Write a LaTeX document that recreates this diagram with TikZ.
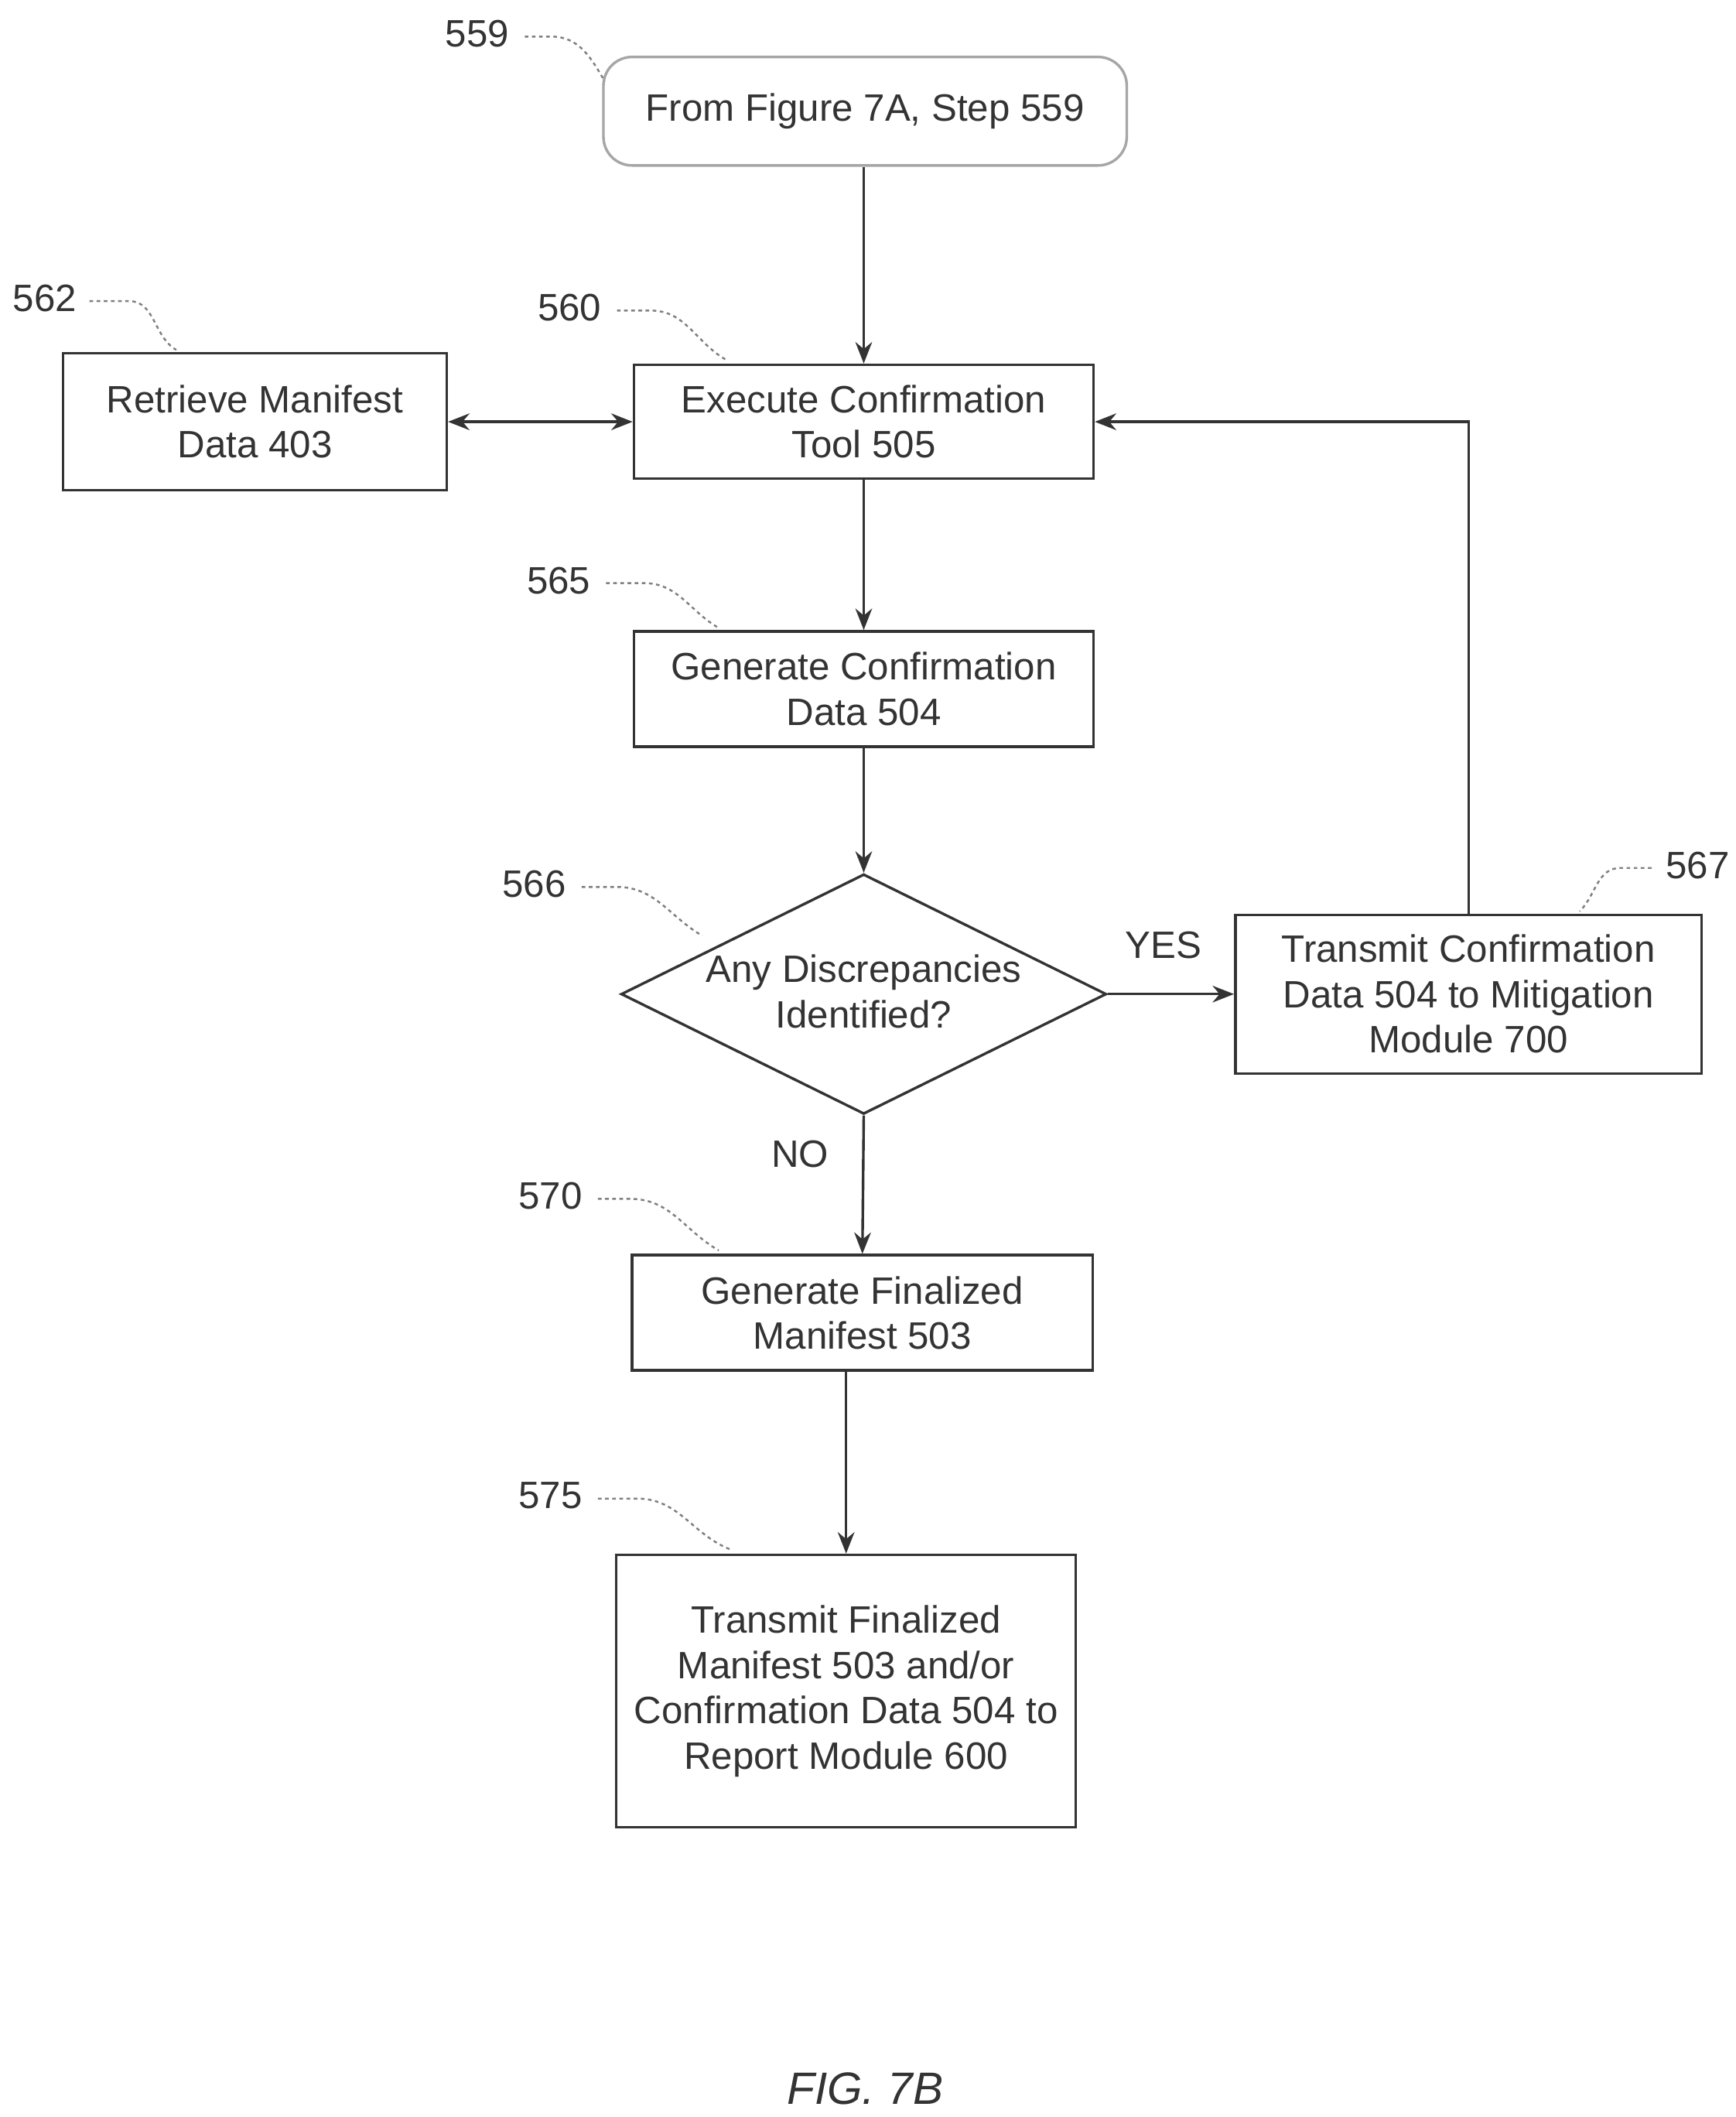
\documentclass[tikz,border=0pt]{standalone}
\usepackage{fontspec}
\setmainfont{Liberation Sans}
\usetikzlibrary{shapes.geometric,arrows.meta}
\definecolor{ink}{HTML}{333333}
\begin{document}
\begin{tikzpicture}[x=0.02cm,y=-0.02cm,
  every node/.style={font=\fontsize{16}{19}\selectfont,text=ink},
  box/.style={draw=ink,line width=1.1pt,align=center,inner sep=0pt},
  arr/.style={draw=ink,line width=1.1pt,-{Stealth[length=9pt,width=7pt]}},
  lead/.style={draw=gray,line width=0.8pt,dash pattern=on 1.5pt off 1.5pt}]
\useasboundingbox (0,0) rectangle (1280,1561);
\node[box,draw=gray!70,rounded corners=12pt,minimum width=7.72cm,minimum height=1.6cm] (s) at (638,82) {From Figure 7A, Step 559};
\node[box,minimum width=5.66cm,minimum height=2.02cm] (b562) at (188,311) {Retrieve Manifest\\Data 403};
\node[box,minimum width=6.78cm,minimum height=1.68cm] (b560) at (637,311) {Execute Confirmation\\Tool 505};
\node[box,minimum width=6.78cm,minimum height=1.7cm] (b565) at (637,508) {Generate Confirmation\\Data 504};
\node[diamond,draw=ink,line width=1.1pt,minimum width=7.16cm,minimum height=3.54cm,aspect=2.02,align=center,inner sep=0pt] (d566) at (637,733) {};
\node[align=center] at (637,731) {Any Discrepancies\\Identified?};
\node[box,minimum width=6.88cm,minimum height=2.34cm] (b567) at (1083,733) {Transmit Confirmation\\Data 504 to Mitigation\\Module 700};
\node[box,minimum width=6.8cm,minimum height=1.7cm] (b570) at (636,968) {Generate Finalized\\Manifest 503};
\node[box,minimum width=6.78cm,minimum height=4.02cm] (b575) at (624,1247) {Transmit Finalized\\Manifest 503 and/or\\Confirmation Data 504 to\\Report Module 600};
\node at (638,1540) {\fontsize{19}{21}\selectfont\itshape FIG. 7B};
\node at (858,697) {YES};
\node at (590,851) {NO};
% labels
\node (l559) at (352,25) {559};
\node (l562) at (33,220) {562};
\node (l560) at (420,227) {560};
\node (l565) at (412,428) {565};
\node (l566) at (394,652) {566};
\node (l567) at (1252,638) {567};
\node (l570) at (406,882) {570};
\node (l575) at (406,1103) {575};
\draw[lead] (387,27) -- (407,27) to[out=0,in=120] (446,60);
\draw[lead] (66,222) -- (95,222) to[out=0,in=150] (130,258);
\draw[lead] (455,229) -- (480,229) to[out=0,in=150] (535,265);
\draw[lead] (447,430) -- (475,430) to[out=0,in=150] (530,463);
\draw[lead] (429,654) -- (455,654) to[out=0,in=150] (518,690);
\draw[lead] (1218,640) -- (1195,640) to[out=180,in=45] (1165,672);
\draw[lead] (441,884) -- (465,884) to[out=0,in=150] (530,922);
\draw[lead] (441,1105) -- (470,1105) to[out=0,in=160] (540,1143);
% connectors
\draw[arr] (s.south -| b560.north) -- (b560.north);
\draw[arr,{Stealth[length=9pt,width=7pt]}-{Stealth[length=9pt,width=7pt]}] (b562.east) -- (b560.west);
\draw[arr] (b560) -- (b565);
\draw[arr] (b565.south) -- (d566.north);
\draw[arr] (d566.east) -- (b567.west);
\draw[arr] (b567.north) |- (b560.east);
\draw[arr] (d566.south) -- (b570.north);
\draw[arr] (b570.south -| b575.north) -- (b575.north);
\end{tikzpicture}
\end{document}
